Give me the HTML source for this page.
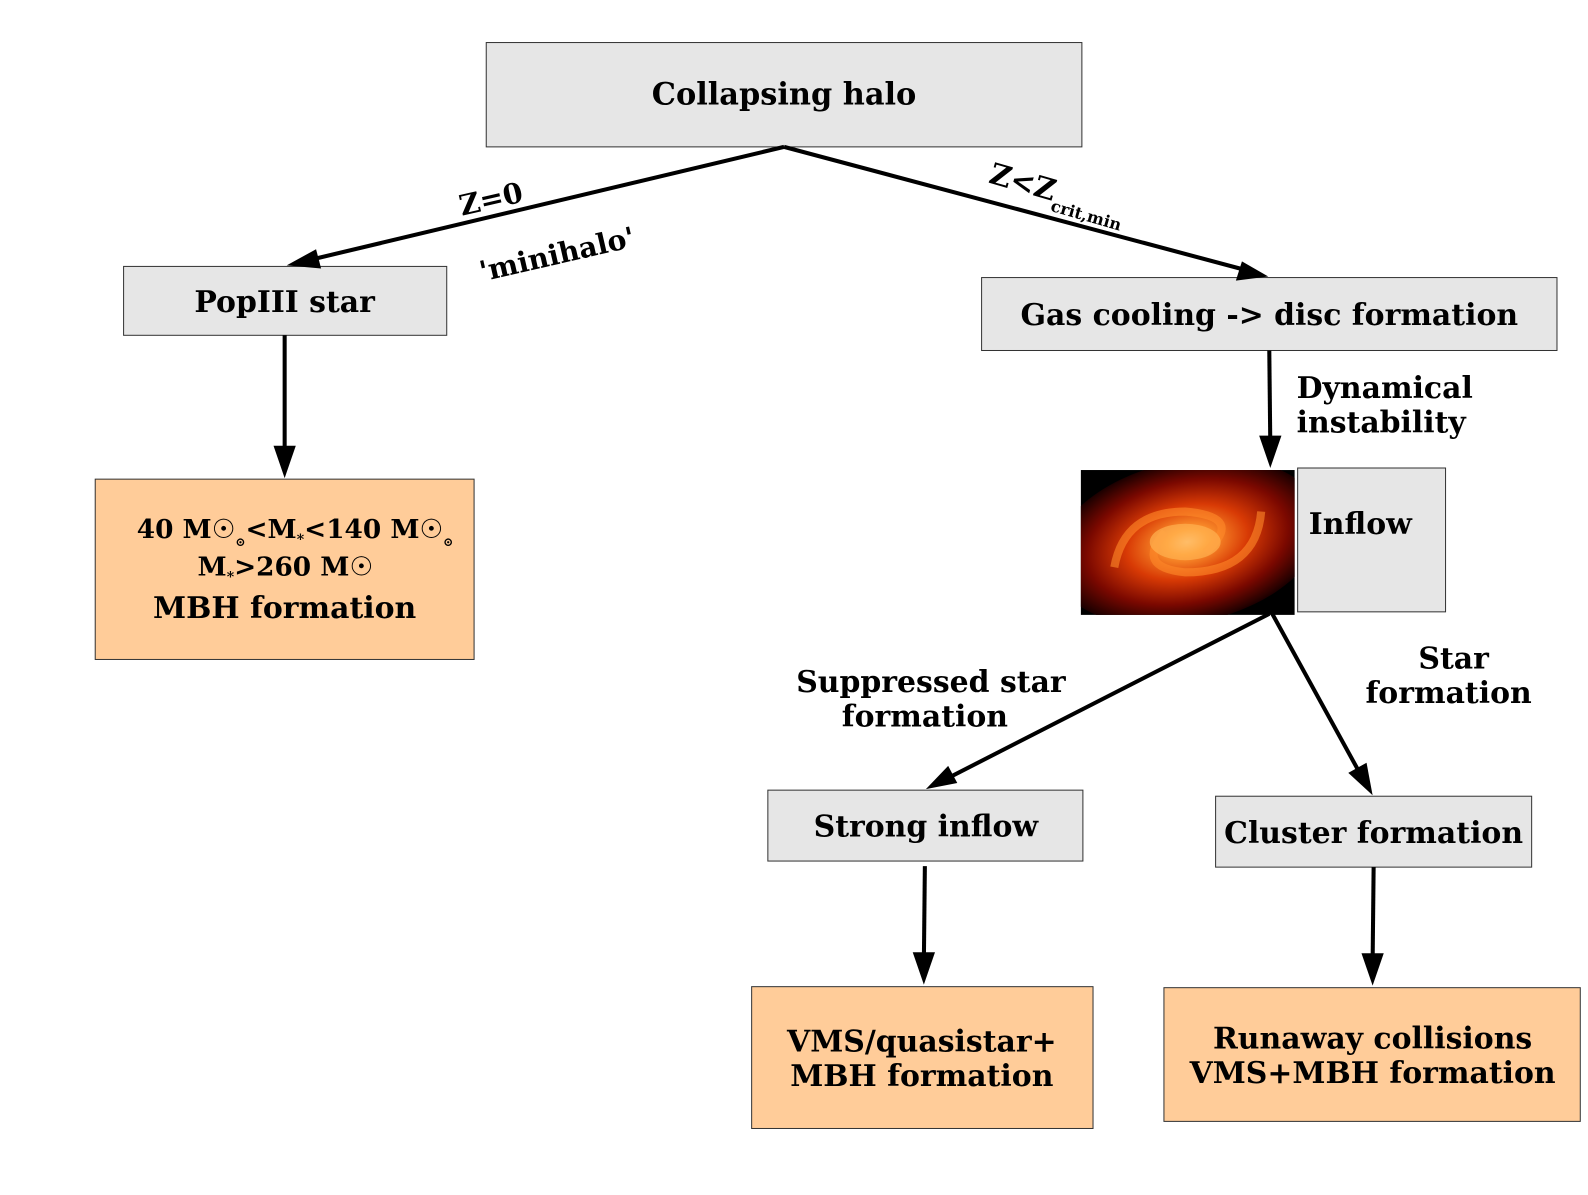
<!DOCTYPE html>
<html><head><meta charset="utf-8"><style>
body{margin:0;background:#fff}
svg text{font-family:"DejaVu Serif","Liberation Serif",serif;font-weight:bold;fill:#000}
</style></head><body>
<svg width="1588" height="1190" viewBox="0 0 1588 1190" xmlns="http://www.w3.org/2000/svg">
<defs>
<radialGradient id="g" cx="0.5" cy="0.5" r="0.5">
<stop offset="0" stop-color="#ffd9a0"/><stop offset="0.15" stop-color="#ff9a30"/><stop offset="0.45" stop-color="#d83a05"/><stop offset="0.75" stop-color="#7a0800"/><stop offset="1" stop-color="#1a0000"/>
</radialGradient>
<clipPath id="c"><rect x="1067" y="464" width="211" height="143"/></clipPath>
</defs>
<g transform="scale(1.013)">
<g stroke="#333" stroke-width="1">
<rect x="480" y="42" width="588" height="103" fill="#e6e6e6"/>
<rect x="122" y="263" width="319" height="68" fill="#e6e6e6"/>
<rect x="969" y="274" width="568" height="72" fill="#e6e6e6"/>
<rect x="1281" y="462" width="146" height="142" fill="#e6e6e6"/>
<rect x="758" y="780" width="311" height="70" fill="#e6e6e6"/>
<rect x="1200" y="786" width="312" height="70" fill="#e6e6e6"/>
<rect x="94" y="473" width="374" height="178" fill="#ffcc99"/>
<rect x="742" y="974" width="337" height="140" fill="#ffcc99"/>
<rect x="1149" y="975" width="411" height="132" fill="#ffcc99"/>
</g>
<rect x="1067" y="464" width="211" height="143" fill="#000"/>
<g clip-path="url(#c)">
<ellipse cx="1172" cy="535" rx="135" ry="80" fill="url(#g)" transform="rotate(-12 1172 535)"/>
<path d="M1100 560 Q1110 505 1170 505 Q1230 510 1190 545" stroke="#ff8a2a" stroke-width="8" fill="none" opacity="0.6"/>
<path d="M1245 505 Q1240 565 1170 565 Q1120 560 1150 525" stroke="#ff8a2a" stroke-width="8" fill="none" opacity="0.6"/>
<ellipse cx="1170" cy="535" rx="35" ry="18" fill="#ffb050" opacity="0.7"/>
</g>
<g stroke="#000" stroke-width="4" fill="none">
<line x1="774" y1="145" x2="300" y2="258"/>
<line x1="774" y1="145" x2="1235" y2="268"/>
<line x1="281" y1="331" x2="281" y2="450"/>
<line x1="1253" y1="346" x2="1254" y2="440"/>
<line x1="1253" y1="606" x2="932" y2="770"/>
<line x1="1256" y1="606" x2="1345" y2="768"/>
<line x1="913" y1="855" x2="912" y2="950"/>
<line x1="1356" y1="856" x2="1355" y2="950"/>
</g>
<g fill="#000">
<polygon points="283,262 312,246 317,265"/>
<polygon points="1252,273 1220,277 1226,258"/>
<polygon points="281,472 270,440 292,440"/>
<polygon points="1254,462 1243,430 1265,430"/>
<polygon points="914,779 936,756 945,773"/>
<polygon points="1355,785 1331,763 1349,753"/>
<polygon points="912,972 901,940 923,940"/>
<polygon points="1355,973 1344,941 1366,941"/>
</g>
<text x="774" y="103" font-size="30" text-anchor="middle">Collapsing halo</text>
<text x="281" y="308" font-size="29.5" text-anchor="middle">PopIII star</text>
<text x="1253" y="321" font-size="29.5" text-anchor="middle">Gas cooling -&gt; disc formation</text>
<text x="1292" y="527" font-size="29.5">Inflow</text>
<text x="914" y="826" font-size="29.5" text-anchor="middle">Strong inflow</text>
<text x="1356" y="832" font-size="29.5" text-anchor="middle">Cluster formation</text>
<text x="910" y="1038" font-size="29.5" text-anchor="middle">VMS/quasistar+</text>
<text x="910" y="1072" font-size="29.5" text-anchor="middle">MBH formation</text>
<text x="1355" y="1035" font-size="29.5" text-anchor="middle">Runaway collisions</text>
<text x="1355" y="1069" font-size="29.5" text-anchor="middle">VMS+MBH formation</text>
<text x="135" y="531" font-size="26">40 M<tspan font-weight="normal">☉</tspan><tspan font-size="12" dy="8">⊙</tspan><tspan dy="-8">&lt;M</tspan><tspan font-size="14" dy="6">*</tspan><tspan dy="-6">&lt;140 M</tspan><tspan font-weight="normal">☉</tspan><tspan font-size="12" dy="8">⊙</tspan></text>
<text x="195" y="568" font-size="26">M<tspan font-size="14" dy="6">*</tspan><tspan dy="-6">&gt;260 M</tspan><tspan font-weight="normal">☉</tspan></text>
<text x="281" y="610" font-size="29.5" text-anchor="middle">MBH formation</text>
<text x="456" y="213" font-size="28" transform="rotate(-13 456 213)">Z=0</text>
<text x="476" y="278" font-size="28" transform="rotate(-13 476 278)">'minihalo'</text>
<text x="975" y="180" font-size="29" transform="rotate(16 975 180)">Z&lt;Z<tspan font-size="16" dy="10">crit,min</tspan></text>
<text x="1280" y="393" font-size="29.5">Dynamical</text>
<text x="1280" y="427" font-size="29.5">instability</text>
<text x="919" y="683" font-size="29.5" text-anchor="middle">Suppressed star</text>
<text x="913" y="717" font-size="29.5" text-anchor="middle">formation</text>
<text x="1435" y="660" font-size="29.5" text-anchor="middle">Star</text>
<text x="1430" y="694" font-size="29.5" text-anchor="middle">formation</text>
</g>
</svg>
</body></html>
